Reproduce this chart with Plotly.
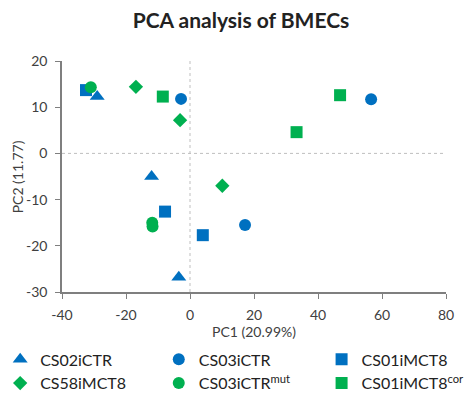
import plotly.graph_objects as go

title = "PCA analysis of BMECs"
x_title = "PC1 (20.99%)"
y_title = "PC2 (11.77)"

groups = ["CS02iCTR", "CS03iCTR", "CS01iMCT8", "CS58iMCT8", "CS03iCTR<sup>mut</sup>", "CS01iMCT8<sup>cor</sup>"]
pc1 = [
    [-29, -12, -3.5],
    [-2.8, 56.6, 17.2],
    [-32.5, -7.8, 4.0],
    [-16.9, -3.1, 10.1],
    [-31, -11.8, -11.7],
    [-8.5, 46.9, 33.3],
]
pc2 = [
    [12.3, -5.0, -26.8],
    [11.8, 11.7, -15.5],
    [13.7, -12.6, -17.7],
    [14.4, 7.2, -7.0],
    [14.3, -15.0, -15.8],
    [12.3, 12.6, 4.6],
]
symbols = ["triangle-up", "circle", "square", "diamond", "circle", "square"]
sizes = [13, 12, 12, 11, 12, 12]
BLUE = "#0070C0"
GREEN = "#00B050"
colors = [BLUE, BLUE, BLUE, GREEN, GREEN, GREEN]
legend_ids = ["legend", "legend2", "legend3", "legend", "legend2", "legend3"]

x_ticks = [-40, -20, 0, 20, 40, 60, 80]
x_tick_labels = ["-40", "-20", "0", "20", "40", "60", "80"]
y_ticks = [-30, -20, -10, 0, 10, 20]
y_tick_labels = ["-30", "-20", "-10", "0", "10", "20"]

FONT = "Lato, Open Sans, sans-serif"

fig = go.Figure()
for g, xs, ys, s, sz, c, lg in zip(groups, pc1, pc2, symbols, sizes, colors, legend_ids):
    fig.add_trace(go.Scatter(
        x=xs, y=ys, mode="markers", name=g, legend=lg,
        marker=dict(symbol=s, size=sz, color=c, line=dict(width=0)),
    ))

fig.add_shape(type="line", x0=0, x1=0, y0=-30, y1=20, xref="x", yref="y",
              line=dict(color="#BFBFBF", width=1, dash="dot"), layer="below")
fig.add_shape(type="line", x0=-40, x1=80, y0=0, y1=0, xref="x", yref="y",
              line=dict(color="#BFBFBF", width=1, dash="dot"), layer="below")

axis_font = dict(family=FONT, size=14, color="#404040")
leg_font = dict(family=FONT, size=16, color="#222222")
leg_common = dict(orientation="v", xanchor="left", y=-0.218, yanchor="top",
                  itemwidth=30, tracegroupgap=0, font=leg_font,
                  bgcolor="rgba(0,0,0,0)")

fig.add_annotation(text=y_title, xref="paper", yref="paper", x=-0.115, y=0.5,
                   xanchor="center", yanchor="middle", textangle=-90,
                   showarrow=False, font=axis_font)

fig.update_layout(
    width=466, height=392,
    margin=dict(l=54, r=28, t=53, b=108, autoexpand=False),
    paper_bgcolor="white", plot_bgcolor="white",
    title=dict(text=f"<b>{title}</b>", x=0.5, xanchor="center", y=0.969, yanchor="middle",
               font=dict(family=FONT, size=21, color="#222222")),
    xaxis=dict(range=[-40, 80], tickvals=x_ticks, ticktext=x_tick_labels,
               showgrid=False, zeroline=False,
               showline=True, linecolor="#7F7F7F", linewidth=1.5, ticks="outside",
               ticklen=5, tickcolor="#7F7F7F", tickfont=axis_font, ticklabelstandoff=4,
               title=dict(text=x_title, font=axis_font, standoff=0)),
    yaxis=dict(range=[-30, 20], tickvals=y_ticks, ticktext=y_tick_labels,
               showgrid=False, zeroline=False,
               showline=True, linecolor="#7F7F7F", linewidth=1.5, ticks="outside",
               ticklen=5, tickcolor="#7F7F7F", tickfont=axis_font, ticklabelstandoff=5),
    legend=dict(x=-0.161, **leg_common),
    legend2=dict(x=0.252, **leg_common),
    legend3=dict(x=0.676, **leg_common),
    showlegend=True,
)

fig.write_html("out.html")
